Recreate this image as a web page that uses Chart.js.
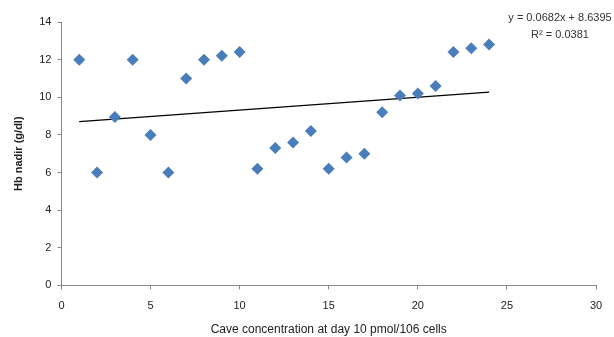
<!DOCTYPE html>
<html>
<head>
<meta charset="utf-8">
<script src="https://cdn.jsdelivr.net/npm/chart.js@4"></script>
<style>
  html, body { margin: 0; padding: 0; background: #fff; }
  #wrap { width: 614px; height: 337px; }
</style>
</head>
<body>
<div id="wrap"><canvas id="scatterChart" width="614" height="337"></canvas></div>
<script>
// values
const caveConc = [1, 2, 3, 4, 5, 6, 7, 8, 9, 10, 11, 12, 13, 14, 15, 16, 17, 18, 19, 20, 21, 22, 23, 24];
const hbNadir = [12, 6, 8.95, 12, 8, 6, 11, 12, 12.2, 12.4, 6.2, 7.3, 7.6, 8.2, 6.2, 6.8, 7, 9.2, 10.1, 10.2, 10.6, 12.4, 12.6, 12.8];
// trendline as printed on the chart
const trendSlope = 0.0682;
const trendIntercept = 8.6395;
const trendLabels = ["y = 0.0682x + 8.6395", "R² = 0.0381"];

const xFirst = caveConc[0];
const xLast = caveConc[caveConc.length - 1];
const trendPoints = [
  { x: xFirst, y: trendSlope * xFirst + trendIntercept },
  { x: xLast, y: trendSlope * xLast + trendIntercept }
];

const fontFam = "'Liberation Sans', Arial, sans-serif";

// equation text in the upper right corner
const equationText = {
  id: 'equationText',
  afterDraw(chart) {
    const ctx = chart.ctx;
    ctx.save();
    ctx.fillStyle = '#333';
    ctx.font = '11px ' + fontFam;
    ctx.textAlign = 'center';
    ctx.textBaseline = 'middle';
    ctx.fillText(trendLabels[0], 560, 18);
    ctx.fillText(trendLabels[1], 560, 35);
    ctx.restore();
  }
};

new Chart(document.getElementById("scatterChart").getContext("2d"), {
  type: 'scatter',
  data: {
    datasets: [
      {
        label: 'Hb nadir',
        data: caveConc.map((x, i) => ({ x: x, y: hbNadir[i] })),
        pointStyle: 'rectRot',
        pointRadius: 6,
        pointHoverRadius: 6,
        backgroundColor: '#4A7EBB',
        borderColor: '#4A7EBB',
        borderWidth: 0
      },
      {
        label: 'Trend',
        type: 'line',
        data: trendPoints,
        borderColor: '#000',
        borderWidth: 1.2,
        pointRadius: 0,
        fill: false
      }
    ]
  },
  plugins: [equationText],
  options: {
    responsive: false,
    animation: false,
    layout: { padding: { top: 22, right: 18, left: 8, bottom: 0 } },
    plugins: { legend: { display: false }, tooltip: { enabled: false } },
    scales: {
      x: {
        type: 'linear',
        min: 0,
        max: 30,
        ticks: { stepSize: 5, color: '#222', font: { family: fontFam, size: 11 }, padding: 10 },
        grid: { drawOnChartArea: false, drawTicks: true, tickLength: 4, color: '#888' },
        border: { color: '#888' },
        title: {
          display: true,
          text: 'Cave concentration at day 10 pmol/106 cells',
          color: '#222',
          font: { family: fontFam, size: 12 },
          padding: { top: 0, bottom: 0 }
        }
      },
      y: {
        min: 0,
        max: 14,
        ticks: { stepSize: 2, color: '#222', font: { family: fontFam, size: 11 }, padding: 6 },
        grid: { drawOnChartArea: false, drawTicks: true, tickLength: 4, color: '#888' },
        border: { color: '#888' },
        title: {
          display: true,
          text: 'Hb nadir (g/dl)',
          color: '#222',
          font: { family: fontFam, size: 11, weight: 'bold' },
          padding: { bottom: 8 }
        }
      }
    }
  }
});
</script>
</body>
</html>
